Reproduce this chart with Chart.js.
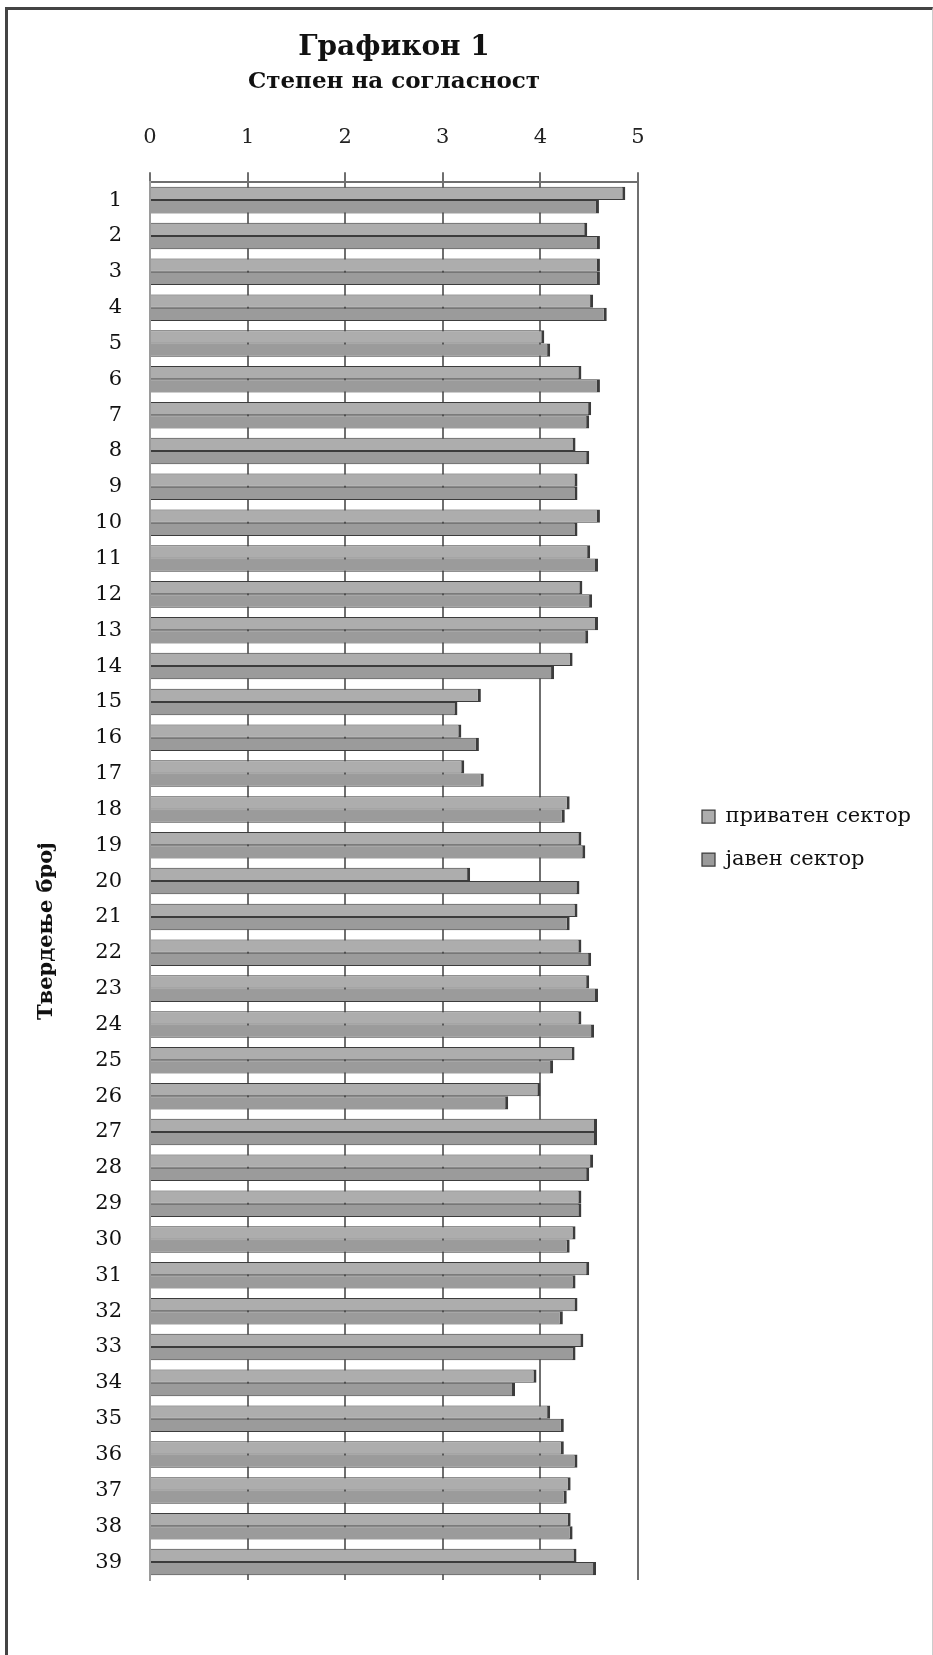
<!DOCTYPE html>
<html>
<head>
<meta charset="utf-8">
<script src="https://cdn.jsdelivr.net/npm/chart.js@4.4.0/dist/chart.umd.min.js"></script>
<style>
  html, body { margin: 0; padding: 0; background: #fff; }
  #wrap { position: relative; width: 933px; height: 1655px; }
  #frame {
    position: absolute; left: 5px; top: 7px; width: 924px; height: 1660px;
    border-left: 3px solid #444; border-top: 3px solid #444; border-right: 1px solid #ccc;
  }
  canvas { position: absolute; left: 0; top: 0; }
</style>
</head>
<body>
<div id="wrap">
  <div id="frame"></div>
  <canvas id="grafikon1" width="933" height="1655"></canvas>
</div>
<script>
const statements = [];
for (let i = 1; i <= 39; i++) statements.push(String(i));

const privateSector = [
  4.87, 4.48, 4.61, 4.54, 4.04, 4.42, 4.52, 4.36, 4.38, 4.61,
  4.51, 4.43, 4.59, 4.33, 3.39, 3.19, 3.22, 4.30, 4.42, 3.28,
  4.38, 4.42, 4.50, 4.42, 4.35, 4.00, 4.58, 4.54, 4.42, 4.36,
  4.50, 4.38, 4.44, 3.96, 4.10, 4.24, 4.31, 4.31, 4.37
];
const publicSector = [
  4.60, 4.61, 4.61, 4.68, 4.10, 4.61, 4.50, 4.50, 4.38, 4.38,
  4.59, 4.53, 4.49, 4.14, 3.15, 3.37, 3.42, 4.25, 4.46, 4.40,
  4.30, 4.52, 4.59, 4.55, 4.13, 3.67, 4.58, 4.50, 4.42, 4.30,
  4.36, 4.23, 4.36, 3.74, 4.24, 4.38, 4.27, 4.33, 4.57
];
const seriesNames = ['приватен сектор', 'јавен сектор'];
const yTitleText = 'Твердење број';

const serif = "'DejaVu Serif', 'Liberation Serif', serif";
const LEGEND_W = 243;

// legend box gets a fixed width, otherwise it is clipped at half the free width
const legendWidth = {
  id: 'legendWidth',
  beforeLayout(chart) {
    const lg = chart.legend;
    if (lg && !lg._fixedWidth) {
      const fit = lg.fit;
      lg.fit = function () {
        fit.call(this);
        this.width = LEGEND_W;
      };
      lg._fixedWidth = true;
    }
  }
};

// rotated axis title, sitting a bit below the middle of the axis like in the original
const yTitle = {
  id: 'yTitle',
  afterDraw(chart) {
    const { ctx, chartArea } = chart;
    const cy = (chartArea.top + chartArea.bottom) / 2 + 50;
    ctx.save();
    ctx.translate(47, cy);
    ctx.rotate(-Math.PI / 2);
    ctx.font = "bold 21px " + serif;
    ctx.fillStyle = '#111';
    ctx.textAlign = 'center';
    ctx.textBaseline = 'middle';
    ctx.fillText(yTitleText, 0, 0);
    ctx.restore();
  }
};

document.addEventListener("DOMContentLoaded", () => {
  const ctx = document.getElementById('grafikon1').getContext('2d');

  new Chart(ctx, {
    type: 'bar',
    data: {
      labels: statements,
      datasets: [{
        label: seriesNames[0],
        data: privateSector,
        backgroundColor: '#adadad',
        borderColor: '#3c3c3c',
        borderWidth: { top: 1, right: 3, bottom: 1, left: 0 },
        borderSkipped: false
      }, {
        label: seriesNames[1],
        data: publicSector,
        backgroundColor: '#9b9b9b',
        borderColor: '#3c3c3c',
        borderWidth: { top: 1, right: 3, bottom: 1, left: 0 },
        borderSkipped: false
      }]
    },
    options: {
      indexAxis: 'y',
      responsive: false,
      devicePixelRatio: 1,
      animation: false,
      categoryPercentage: 0.74,
      barPercentage: 1.0,
      layout: {
        padding: { top: 21, left: 25, right: 10, bottom: 0 }
      },
      scales: {
        x: {
          position: 'top',
          min: 0,
          max: 5,
          ticks: {
            stepSize: 1,
            padding: 22,
            color: '#222',
            font: { family: serif, size: 21 }
          },
          grid: { color: '#6f6f6f', lineWidth: 2, tickLength: 10 },
          border: { display: true, color: '#6f6f6f', width: 2 },
          afterFit: scale => { scale.height = 86; }
        },
        xB: {
          position: 'bottom',
          display: false,
          afterFit: scale => { scale.height = 75; }
        },
        y: {
          ticks: {
            padding: 28,
            color: '#111',
            font: { family: serif, size: 21 }
          },
          grid: { display: false, drawTicks: false },
          border: { display: true, color: '#9a9a9a', width: 2 },
          afterFit: scale => { scale.width = 125; }
        },
        yR: {
          position: 'right',
          display: false,
          afterFit: scale => { scale.width = 42; }
        }
      },
      plugins: {
        title: {
          display: true,
          fullSize: false,
          text: 'Графикон 1',
          color: '#111',
          font: { family: serif, size: 28, weight: 'bold' },
          padding: { top: 10, bottom: 2 }
        },
        subtitle: {
          display: true,
          fullSize: false,
          text: 'Степен на согласност',
          color: '#111',
          font: { family: serif, size: 23, weight: 'bold' },
          padding: { top: 2, bottom: 0 }
        },
        legend: {
          position: 'right',
          align: 'center',
          labels: {
            boxWidth: 13,
            boxHeight: 13,
            padding: 22,
            color: '#111',
            font: { family: serif, size: 21 }
          }
        },
        tooltip: { enabled: false }
      }
    },
    plugins: [legendWidth, yTitle]
  });
});
</script>
</body>
</html>
